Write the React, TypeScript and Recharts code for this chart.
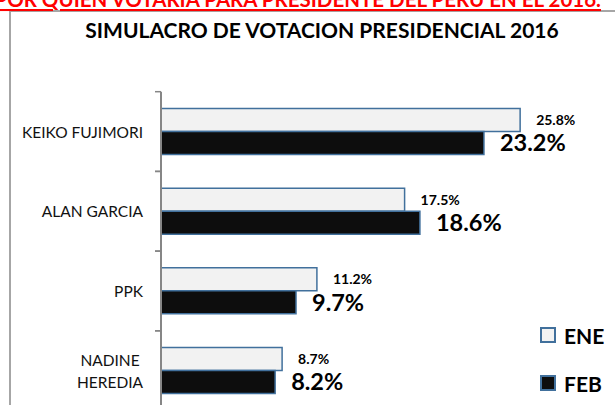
import React from "react";
import { BarChart, Bar, XAxis, YAxis, LabelList } from "recharts";

const categories = ["KEIKO FUJIMORI", "ALAN GARCIA", "PPK", "NADINE\nHEREDIA"];
const seriesNames = ["ENE", "FEB"];
const eneValues = [25.8, 17.5, 11.2, 8.7];
const febValues = [23.2, 18.6, 9.7, 8.2];
const xDomain = [0, 30];

const pageTitle = "POR QUIEN VOTARIA PARA PRESIDENTE DEL PERU EN EL 2016.";
const chartTitle = "SIMULACRO DE VOTACION PRESIDENCIAL 2016";

const data = categories.map((name, i) => ({
  name,
  ENE: eneValues[i],
  FEB: febValues[i],
}));

const FONT = "Lato, 'Noto Sans', sans-serif";
const AXIS_GRAY = "#868686";
const BAR_STROKE = "#41709c";
const ENE_FILL = "#f2f2f2";
const FEB_FILL = "#0d0d0d";
const TICK_GAP = 18;

const fmt = (v: any) => `${Number(v).toFixed(1)}%`;

const CategoryTick = (props: any) => {
  const { x, y, payload } = props;
  const half = payload && payload.offset ? payload.offset : 40;
  const axisX = x + TICK_GAP;
  const lines = String(payload.value).split("\n");
  return (
    <g>
      <line x1={axisX - 6} x2={axisX} y1={y - half} y2={y - half} stroke={AXIS_GRAY} strokeWidth={1.5} />
      <line x1={axisX - 6} x2={axisX} y1={y + half} y2={y + half} stroke={AXIS_GRAY} strokeWidth={1.5} />
      {lines.length === 1 ? (
        <text x={x} y={y} textAnchor="end" dominantBaseline="central" fontFamily={FONT} fontSize={15.5} fill="#111">
          {lines[0]}
        </text>
      ) : (
        lines.map((ln, i) => (
          <text
            key={i}
            x={x - 33}
            y={y + (i - (lines.length - 1) / 2) * 22}
            textAnchor="middle"
            dominantBaseline="central"
            fontFamily={FONT}
            fontSize={15.5}
            fill="#111"
          >
            {ln}
          </text>
        ))
      )}
    </g>
  );
};

export default function App() {
  return (
    <div style={{ position: "absolute", left: 0, top: 0, width: 615, height: 405, overflow: "hidden", background: "#fff" }}>
      <svg width={615} height={405} style={{ position: "absolute", left: 0, top: 0 }}>
        <rect x={10} y={11} width={700} height={500} fill="none" stroke="#a6a6a6" strokeWidth={2} />
        <text
          x={601}
          y={7}
          textAnchor="end"
          fontFamily={FONT}
          fontWeight="bold"
          fontSize={20.5}
          fill="#ff0000"
          style={{ textDecoration: "underline" }}
        >
          {pageTitle}
        </text>
        <text x={322} y={38} textAnchor="middle" fontFamily={FONT} fontWeight="bold" fontSize={21} fill="#000">
          {chartTitle}
        </text>
      </svg>
      <div style={{ position: "absolute", left: 0, top: 0 }}>
        <BarChart
          width={615}
          height={430}
          data={data}
          layout="vertical"
          margin={{ top: 91.7, right: 36.4, bottom: 19.5, left: 0 }}
          barGap={0}
          barCategoryGap="21%"
        >
          <XAxis type="number" domain={xDomain} hide />
          <YAxis
            type="category"
            dataKey="name"
            width={161}
            axisLine={{ stroke: AXIS_GRAY, strokeWidth: 2 }}
            tickLine={false}
            tickSize={0}
            tickMargin={TICK_GAP}
            tick={<CategoryTick />}
            interval={0}
          />
          <Bar dataKey="ENE" fill={ENE_FILL} stroke={BAR_STROKE} strokeWidth={1.5} isAnimationActive={false}>
            <LabelList dataKey="ENE" position="right" offset={16} formatter={fmt} fill="#000" fontFamily={FONT} fontWeight="bold" fontSize={14} />
          </Bar>
          <Bar dataKey="FEB" fill={FEB_FILL} stroke={BAR_STROKE} strokeWidth={1.5} isAnimationActive={false}>
            <LabelList dataKey="FEB" position="right" offset={16} formatter={fmt} fill="#000" fontFamily={FONT} fontWeight="bold" fontSize={23.5} />
          </Bar>
        </BarChart>
      </div>
      <div style={{ position: "absolute", left: 540, top: 320, fontFamily: FONT }}>
        {seriesNames.map((s, i) => (
          <div key={s} style={{ display: "flex", alignItems: "center", height: 30, marginBottom: i === 0 ? 18 : 0 }}>
            <div
              style={{
                width: 12,
                height: 12,
                border: `2px solid ${BAR_STROKE}`,
                background: i === 0 ? ENE_FILL : FEB_FILL,
                marginRight: 8,
              }}
            />
            <span style={{ fontSize: 21, fontWeight: "bold", color: "#000" }}>{s}</span>
          </div>
        ))}
      </div>
    </div>
  );
}
